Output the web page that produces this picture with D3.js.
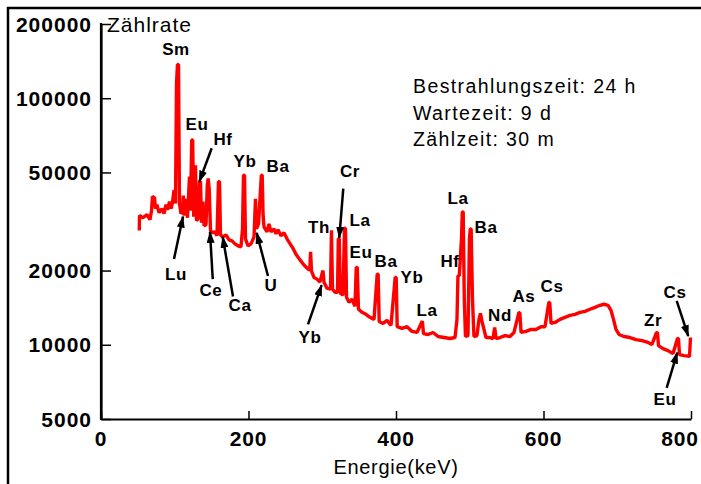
<!DOCTYPE html>
<html>
<head>
<meta charset="utf-8">
<script src="https://cdn.jsdelivr.net/npm/d3@7"></script>
<style>
  html, body { margin: 0; padding: 0; background: #fff; }
  svg { display: block; }
  text { font-family: "Liberation Sans", Arial, sans-serif; }
</style>
</head>
<body>
<div id="canvas"></div>
<script>
"use strict"

/* gamma spectrum, values (energy in keV, count rate) */
const energy = [51.9, 52.2, 56.9, 62.4, 66.4, 68.5, 69.8, 72.5, 73.9, 75.9, 78.6, 82.7, 85.4, 88.1, 90.2, 92.9, 94.9, 96.9, 99, 101,
    102.4, 103.7, 105.1, 106.4, 108.5, 110.5, 111.6, 112.9, 115.3, 117.3, 120, 121.4, 123, 124.3, 125.7, 126.8, 128.1, 129.5, 131.5, 133.6,
    134.9, 136.3, 138.3, 139.7, 142.4, 144.1, 145.3, 146.7, 148.5, 151.9, 154.6, 157.3, 159.3, 160.7, 162, 165.4, 169.5, 173.6, 177.6, 181.7,
    185.8, 189.8, 191.9, 193.2, 194.6, 195.9, 199.3, 203.4, 207.5, 209.5, 210.8, 213.6, 215.6, 217.4, 218.6, 219.7, 221, 225.1, 227.8, 230.5,
    234.6, 237.3, 240, 244, 248.1, 252.2, 256.3, 260.4, 264.4, 269.8, 275.2, 280.7, 283.1, 284.2, 285.4, 288.8, 292.9, 296.9, 299.6, 301,
    302.4, 306.4, 311.2, 312.5, 313.9, 317.3, 320.7, 321.8, 323.1, 324.5, 328.1, 330.2, 331.5, 332.9, 336.3, 340.3, 344.4, 346.1, 347.5, 349.1,
    353.9, 359.3, 364.7, 370.2, 374.5, 375.8, 377.2, 382.4, 387.8, 393.2, 398.9, 400.3, 401.6, 408.1, 414.9, 421.7, 428.5, 435.7, 437.3, 443.4,
    450.2, 457, 465.1, 473.2, 480, 482.7, 484, 485.8, 488.8, 489.9, 491.1, 492.6, 494.2, 497.6, 499.6, 500.7, 501.9, 503.7, 505.7, 509.8,
    512.5, 514.5, 516.6, 519.3, 522, 527.4, 531.5, 533.8, 535.6, 541, 547.8, 554.6, 560, 566.6, 567.9, 569.6, 576.3, 583.1, 589.8, 596.6,
    602, 607.2, 608.5, 610.2, 615.6, 622.4, 629.1, 636, 642.7, 649.5, 656.3, 663, 669.8, 676.6, 682, 687.5, 691.5, 694.9, 698.3, 702.4,
    709.2, 717.3, 725.4, 733.6, 741.7, 747.1, 753.2, 754.6, 755.9, 762, 768.8, 775.6, 781.7, 783, 784.4, 790.5, 798, 799.3];
const counts = [29100, 33460, 32750, 33700, 32150, 35000, 39900, 39500, 35650, 37000, 34330, 35650, 34000, 37000, 35300, 38050, 35650, 37700, 42350, 37400,
    115000, 137000, 137000, 37400, 34000, 34700, 40300, 33400, 39100, 32750, 48150, 35000, 67700, 67700, 33100, 43000, 53400, 31850, 32400, 45900,
    45900, 31250, 38050, 30400, 30700, 44400, 47300, 43000, 29000, 28450, 28700, 27670, 45900, 45900, 27900, 27400, 27900, 26650, 26400, 25650,
    25200, 24950, 29500, 48700, 48700, 26900, 25200, 25650, 27400, 39100, 29500, 30950, 39100, 48700, 48700, 34000, 30100, 28700, 30950, 28700,
    29500, 28200, 29250, 27700, 28450, 26900, 25700, 24600, 23300, 22100, 21060, 20280, 20080, 23800, 19900, 18760, 18460, 17950, 19350, 20000,
    17950, 16970, 16800, 29100, 16800, 16340, 16340, 26900, 26900, 16180, 15880, 29700, 29700, 15590, 14870, 15300, 14330, 20600, 20600, 13930,
    13540, 13290, 12920, 12680, 19350, 19350, 12440, 12210, 12560, 11980, 18760, 18760, 11840, 11650, 11840, 11330, 11220, 12480, 11110, 11010,
    11220, 10800, 10700, 10600, 10700, 12680, 19050, 19050, 26900, 34600, 34600, 15300, 10800, 10900, 26900, 29500, 29500, 15300, 10800, 10900,
    12680, 13400, 12440, 11540, 10700, 10700, 10600, 11760, 10600, 10700, 10900, 10800, 11220, 13500, 13500, 11220, 11330, 11540, 11540, 11840,
    11840, 14840, 14840, 12210, 12320, 12680, 12920, 13160, 13290, 13540, 13670, 13930, 14190, 14460, 14600, 14460, 13800, 12680, 11540, 11010,
    10800, 10700, 10500, 10400, 10220, 10030, 11200, 11200, 9930, 9650, 9470, 9210, 10600, 10600, 9120, 9040, 8980, 10700];

const xTicks = [0, 200, 400, 600, 800];
const yTicks = [5000, 10000, 20000, 50000, 100000, 200000];

/* element labels: text, position in keV / count rate */
const labelText = ["Sm", "Eu", "Hf", "Yb", "Ba", "Lu", "Ce", "Ca", "U", "Cr", "Th", "La", "Eu", "Ba", "Yb", "La", "Hf", "La", "Yb", "Ba", "Nd", "As", "Cs", "Zr", "Cs", "Eu"];
const labelE = [101.7, 130.2, 165.4, 195.2, 240, 101.7, 149.1, 188.5, 230.5, 337.6, 295.6, 351.2, 352.5, 386.4, 421.7, 442, 473.2, 484, 283.4, 522, 541, 573.5, 611.5, 748.5, 778.3, 764.7];
const labelC = [158900, 78500, 68200, 55400, 52900, 19350, 16650, 14460, 17450, 50900, 30100, 32150, 23800, 21870, 18800, 13800, 21870, 39500, 10800, 30100, 13160, 15700, 17300, 12560, 16340, 6030];

/* arrows: start and tip (keV / count rate) */
const arrowFromE = [150.1, 99, 151.5, 179, 226.4, 328.5, 280.7, 780.6, 767];
const arrowFromC = [62700, 22300, 18460, 15700, 19000, 43000, 12100, 15060, 6690];
const arrowToE = [133.3, 111.2, 147.8, 165, 211.1, 323.1, 299.2, 796.3, 781.4];
const arrowToC = [45900, 33100, 28700, 27400, 28450, 27150, 17450, 10840, 9300];

const infoLines = ["Bestrahlungszeit: 24 h", "Wartezeit: 9 d", "Zählzeit: 30 m"];

let drawing = d3.select("#canvas")
    .append("svg")
    .attr("width", 701)
    .attr("height", 484);

// frame, only top and left edges are visible in the picture
drawing.append("rect")
    .attr("x", 8).attr("y", 8)
    .attr("width", 800).attr("height", 600)
    .attr("fill", "none")
    .attr("stroke", "#000")
    .attr("stroke-width", 2.5);

let x = d3.scaleLinear().domain([0, 800]).range([101, 691]);
let y = d3.scaleLog().domain([5000, 200000]).range([419, 24]);

// axes
let xAxis = drawing.append("g")
    .attr("transform", "translate(0,419)")
    .call(d3.axisTop(x).tickValues(xTicks).tickSize(8).tickSizeOuter(0).tickFormat(""));
let yAxis = drawing.append("g")
    .attr("transform", "translate(101,0)")
    .call(d3.axisRight(y).tickValues(yTicks).tickSize(10).tickSizeOuter(0).tickFormat(""));
[xAxis, yAxis].forEach(function (a) {
    a.select(".domain").attr("stroke", "#000").attr("stroke-width", 2.2);
    a.selectAll(".tick line").attr("stroke", "#000").attr("stroke-width", 1.5);
});
drawing.append("line")
    .attr("x1", 101).attr("x2", 101).attr("y1", 23).attr("y2", 420)
    .attr("stroke", "#000").attr("stroke-width", 2.2);

drawing.selectAll(".xlab")
    .data(xTicks)
    .enter().append("text")
    .attr("class", "xlab")
    .attr("x", function (d) { return x(d) + (d === 800 ? -11 : 0); })
    .attr("y", 446)
    .attr("text-anchor", "middle")
    .style("font-size", "21px").style("font-weight", "bold").style("letter-spacing", "0.8px")
    .text(function (d) { return d; });

drawing.selectAll(".ylab")
    .data(yTicks)
    .enter().append("text")
    .attr("class", "ylab")
    .attr("x", 92)
    .attr("y", function (d) { return y(d) + 7.5; })
    .attr("text-anchor", "end")
    .style("font-size", "21px").style("font-weight", "bold").style("letter-spacing", "1px")
    .text(function (d) { return d; });

drawing.append("text")
    .attr("x", 107).attr("y", 32)
    .style("font-size", "21px").style("letter-spacing", "1px")
    .text("Zählrate");

drawing.append("text")
    .attr("x", 396).attr("y", 474)
    .attr("text-anchor", "middle")
    .style("font-size", "20px").style("letter-spacing", "0.7px")
    .text("Energie(keV)");

// spectrum
let pts = energy.map(function (e, i) { return [e, counts[i]]; });
drawing.append("path")
    .datum(pts)
    .attr("fill", "none")
    .attr("stroke", "#ff0000")
    .attr("stroke-width", 3.4)
    .attr("stroke-linejoin", "bevel")
    .attr("d", d3.line()
        .x(function (d) { return x(d[0]); })
        .y(function (d) { return y(d[1]); }));

// arrows
drawing.append("defs").append("marker")
    .attr("id", "head")
    .attr("markerUnits", "userSpaceOnUse")
    .attr("viewBox", "0 0 12 8")
    .attr("refX", 11).attr("refY", 4)
    .attr("markerWidth", 12).attr("markerHeight", 8)
    .attr("orient", "auto")
    .append("path")
    .attr("d", "M0,0 L12,4 L0,8 Z")
    .attr("fill", "#000");

drawing.selectAll(".arrow")
    .data(arrowFromE)
    .enter().append("line")
    .attr("class", "arrow")
    .attr("x1", function (d, i) { return x(arrowFromE[i]); })
    .attr("y1", function (d, i) { return y(arrowFromC[i]); })
    .attr("x2", function (d, i) { return x(arrowToE[i]); })
    .attr("y2", function (d, i) { return y(arrowToC[i]); })
    .attr("stroke", "#000")
    .attr("stroke-width", 2.5)
    .attr("marker-end", "url(#head)");

// element labels
drawing.selectAll(".elem")
    .data(labelText)
    .enter().append("text")
    .attr("class", "elem")
    .attr("x", function (d, i) { return x(labelE[i]); })
    .attr("y", function (d, i) { return y(labelC[i]) + 6; })
    .attr("text-anchor", "middle")
    .style("font-size", "17px").style("font-weight", "bold").style("letter-spacing", "0.6px")
    .text(function (d) { return d; });

// irradiation info
drawing.selectAll(".info")
    .data(infoLines)
    .enter().append("text")
    .attr("class", "info")
    .attr("x", 413)
    .attr("y", function (d, i) { return 93 + i * 26.5; })
    .style("font-size", "19.5px").style("letter-spacing", "1.4px")
    .text(function (d) { return d; });
</script>
</body>
</html>
